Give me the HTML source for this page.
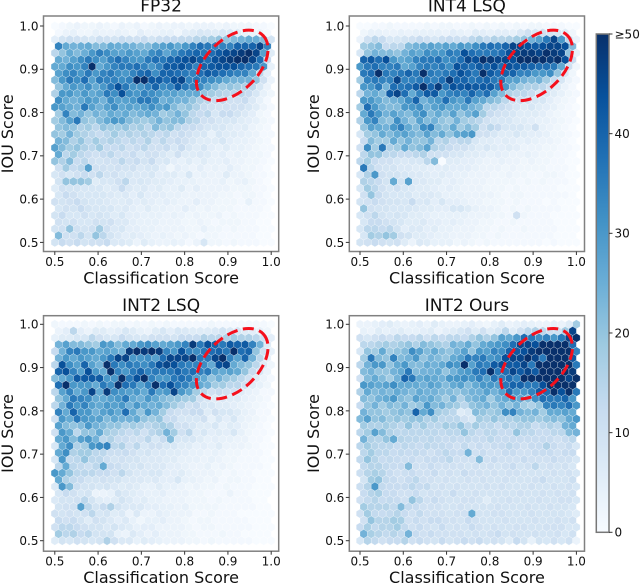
<!DOCTYPE html>
<html lang="en">
<head>
<meta charset="utf-8">
<title>IOU vs Classification Score hexbin charts</title>
<style>
html,body{margin:0;padding:0;background:#fff;width:640px;height:585px;overflow:hidden}
svg{display:block;filter:blur(0.35px)}
text{font-family:"DejaVu Sans","Liberation Sans",sans-serif;fill:#111}
</style>
</head>
<body>
<svg id="figure" width="640" height="585" viewBox="0 0 640 585" xmlns="http://www.w3.org/2000/svg">
<defs>
<linearGradient id="blues" x1="0" y1="1" x2="0" y2="0"></linearGradient>
</defs>
</svg>
<script>
const tickValues = [0.5, 0.6, 0.7, 0.8, 0.9, 1.0];
const tickLabels = ["0.5", "0.6", "0.7", "0.8", "0.9", "1.0"];
const colorbarValues = [0, 10, 20, 30, 40, 50];
const colorbarLabels = ["0", "10", "20", "30", "40", "≥50"];
const colormapColors = ["#f7fbff", "#deebf7", "#c6dbef", "#9ecae1", "#6baed6", "#4292c6", "#2171b5", "#08519c", "#08306b"];
const panelTitles = ["FP32", "INT4 LSQ", "INT2 LSQ", "INT2 Ours"];

const countsFP32 = [
[0,1,2,3,2,2,3,2,1,3,2,3,1,2,3,2,3,3,2,3,3,3,2,3,2,2,2,1,1,0],
[1,3,4,2,2,4,3,3,4,3,2,5,3,3,4,4,2,5,6,8,7,6,8,7,6,4,3,3,1],
[5,9,11,10,9,8,11,10,9,12,11,10,12,9,11,12,12,13,13,15,16,18,20,20,22,24,26,25,22,9],
[34,26,24,25,26,22,22,26,25,25,24,22,22,26,28,30,26,30,34,38,36,34,34,34,40,40,40,46,34],
[14,20,26,22,25,30,35,32,28,27,30,28,26,32,34,27,32,36,38,40,36,38,42,45,46,48,50,46,28,6],
[26,24,28,32,36,32,28,34,38,34,30,30,36,38,36,40,42,44,46,42,38,44,46,48,50,50,46,38,12],
[26,26,32,30,34,50,26,30,34,36,36,38,34,30,34,42,42,44,40,34,40,42,44,44,44,40,38,36,30,4],
[28,32,34,30,36,30,34,36,32,30,34,38,40,32,40,40,38,36,34,38,42,40,38,36,34,34,26,14,5],
[22,30,36,32,38,28,36,34,34,32,34,50,50,42,42,38,44,46,34,36,34,32,30,26,24,24,24,20,10,3],
[20,26,30,28,32,26,30,36,44,36,30,30,34,40,32,34,42,36,34,32,26,22,18,20,18,16,14,8,3],
[16,30,30,26,30,26,28,36,32,44,32,30,34,32,30,28,28,26,26,26,20,18,16,14,14,14,12,8,4,2],
[32,26,24,26,30,28,24,32,28,28,30,36,36,32,24,26,24,24,20,16,14,12,13,10,10,12,7,4,1],
[30,28,26,24,36,28,24,28,32,26,28,26,28,32,28,30,22,18,20,16,12,10,9,10,10,10,8,6,3,1],
[18,34,22,24,20,24,22,26,24,26,22,24,26,24,18,20,24,20,14,12,14,8,12,12,9,7,5,2,1],
[18,22,28,36,20,18,22,26,30,28,22,20,18,20,24,20,22,22,16,14,10,10,8,8,8,6,5,4,2,1],
[20,22,20,16,18,14,20,18,18,20,16,18,14,22,18,20,14,12,12,10,8,8,8,6,5,6,3,2,1],
[20,18,24,18,16,14,12,14,18,14,16,14,16,14,12,14,10,12,10,8,8,4,8,6,6,5,4,3,1,1],
[24,22,16,20,14,18,14,16,14,12,14,12,16,10,14,10,12,10,8,6,6,6,8,5,4,4,3,2,1],
[28,22,18,20,16,14,18,12,12,14,10,12,14,10,10,12,8,12,8,6,8,5,4,6,4,4,3,2,1,1],
[26,14,18,14,12,10,12,14,10,10,12,8,10,10,8,6,10,6,6,7,6,4,5,3,4,3,2,2,1],
[20,16,22,12,14,10,9,10,10,14,10,12,9,12,7,8,5,4,6,4,6,4,4,5,3,3,2,2,1,0],
[10,18,12,14,28,10,10,9,10,9,10,7,8,8,5,2,5,4,3,5,3,4,3,5,3,2,2,1,0],
[8,10,8,10,12,10,14,9,10,8,8,7,7,8,5,6,6,4,8,3,4,3,3,6,3,3,2,1,1,0],
[9,20,20,20,18,6,8,8,10,14,7,8,7,6,6,5,4,4,4,3,3,3,4,2,3,4,2,1,0],
[6,10,9,9,8,8,8,6,7,12,7,6,7,5,6,4,4,6,3,5,3,3,3,3,2,2,2,1,1,0],
[8,12,10,8,8,8,8,7,6,7,5,8,5,5,5,4,4,3,3,3,3,3,2,2,1,2,2,1,0],
[10,9,10,12,9,8,8,7,6,6,7,5,6,5,4,5,4,3,3,5,3,3,2,2,2,1,4,1,1,0],
[8,10,9,12,9,8,8,8,6,7,5,4,6,4,4,3,3,5,3,2,3,2,2,2,1,1,1,1,0],
[9,12,8,8,10,8,9,8,6,8,5,5,4,4,4,3,4,3,2,3,2,2,3,1,2,1,1,1,0,0],
[10,9,10,8,8,10,9,10,7,7,5,4,4,4,3,3,3,2,2,3,2,1,2,2,2,1,1,0,0],
[9,10,20,10,9,10,18,10,7,8,5,5,4,4,3,3,3,3,2,2,4,2,2,1,2,1,1,1,0,0],
[22,10,10,14,9,20,14,9,7,5,6,5,4,3,4,3,2,3,2,1,2,2,1,1,1,1,1,0,0],
[9,12,10,12,9,10,10,12,7,7,6,3,6,4,3,3,4,3,1,3,8,2,2,1,2,1,1,1,0,0]
];

const countsINT4 = [
[0,0,1,1,2,1,1,1,1,2,1,2,2,1,1,2,1,2,1,2,1,2,1,2,2,1,1,1,0,0],
[2,4,4,3,3,4,3,4,4,4,4,3,5,4,3,6,5,4,5,5,4,7,10,8,10,9,8,6,2],
[3,10,14,12,8,8,9,10,12,10,8,11,12,11,10,14,16,13,16,15,16,18,20,24,28,36,46,30,14,3],
[18,20,22,12,14,14,22,24,26,28,26,28,26,30,28,32,36,38,36,40,46,46,44,42,44,46,46,44,22],
[8,20,24,22,22,20,24,28,26,32,30,30,36,34,44,38,36,36,36,38,44,46,48,48,46,50,48,46,20,4],
[40,42,38,44,30,26,28,34,36,36,38,32,34,38,46,44,50,48,46,46,44,50,50,50,50,48,50,44,12],
[30,36,38,34,34,36,26,28,34,36,34,36,32,44,40,38,42,40,44,38,44,42,42,40,38,38,36,26,10,2],
[36,38,50,36,34,36,40,36,50,36,34,36,38,44,40,36,50,42,38,40,40,34,34,30,30,32,20,8,2],
[18,34,36,34,34,46,34,34,36,36,34,38,48,40,40,36,38,40,36,36,28,28,24,22,24,18,12,8,3,1],
[30,30,36,24,38,36,38,42,50,40,48,36,44,42,44,42,42,42,36,30,22,18,16,16,14,10,6,3,1],
[14,24,26,22,42,46,38,26,34,42,42,30,34,36,34,40,34,38,28,22,16,14,14,12,8,8,6,4,2,1],
[30,30,26,22,24,26,32,40,24,28,30,38,30,28,36,28,26,22,20,14,10,10,9,8,8,5,3,2,1],
[18,38,30,24,22,22,30,30,32,24,28,30,26,26,28,24,22,14,14,12,10,8,6,8,6,5,4,2,1,0],
[26,36,30,24,28,24,22,28,32,22,26,22,28,20,24,28,18,12,10,9,8,6,6,6,5,3,2,1,1],
[16,30,34,22,20,32,24,20,28,22,24,20,18,24,18,16,14,10,8,8,8,6,6,5,4,4,3,2,1,0],
[20,28,26,24,30,34,26,22,32,34,22,20,26,18,22,18,10,14,12,8,8,8,6,10,4,3,2,1,0],
[8,18,20,26,22,26,28,24,22,28,22,26,20,26,28,30,10,10,8,6,6,8,6,5,5,4,2,2,1,0],
[12,22,18,18,26,20,24,20,20,24,14,16,12,14,14,8,6,6,5,6,5,4,5,4,3,3,2,1,0],
[10,32,18,36,16,18,26,20,22,28,16,14,12,10,10,8,6,8,6,5,6,5,3,3,3,2,2,1,1,0],
[14,20,20,14,14,12,12,14,16,10,10,10,8,8,6,6,5,4,5,4,3,3,4,3,2,2,1,1,0],
[14,18,12,10,10,8,7,8,8,14,22,0,6,6,5,5,4,3,3,4,3,3,2,3,2,2,1,1,0,0],
[36,14,10,9,9,7,7,6,6,5,5,6,5,5,5,4,3,3,3,2,3,2,2,2,2,1,1,1,0],
[8,16,30,10,9,9,8,7,7,6,5,6,5,4,4,3,3,3,2,2,3,2,2,1,1,2,2,1,0,0],
[16,14,12,9,26,9,28,7,7,6,6,4,5,4,3,3,3,2,2,2,2,1,2,1,2,1,1,1,0],
[8,18,14,10,8,10,8,7,6,6,5,4,5,4,3,3,3,2,2,2,1,2,1,1,1,1,1,0,0,0],
[10,20,12,9,8,8,8,6,7,7,6,4,4,4,3,3,3,3,2,1,2,2,1,1,1,1,1,1,0],
[9,10,12,10,9,9,8,12,7,8,5,8,5,5,4,3,3,2,2,2,1,2,1,1,1,0,1,0,0,0],
[20,10,9,9,8,8,8,7,6,6,5,5,8,8,6,4,3,3,2,1,2,1,2,1,1,1,1,0,0],
[8,10,14,9,8,9,8,6,6,5,4,4,4,4,4,3,3,3,2,2,1,10,2,1,1,1,0,0,0,0],
[8,12,12,10,9,8,6,6,7,5,5,4,5,4,3,3,2,2,1,1,2,1,1,1,1,1,0,0,0],
[8,14,14,12,14,9,5,7,7,5,6,4,4,3,3,3,2,2,1,2,1,1,2,1,1,1,1,0,0,0],
[8,18,16,20,18,10,9,6,6,5,4,4,3,3,3,2,2,1,2,1,1,1,1,1,1,1,0,0,0],
[9,10,12,10,9,10,6,3,7,6,4,4,4,2,3,2,1,2,1,1,1,1,1,1,1,0,1,0,0,0]
];

const countsINT2LSQ = [
[2,1,1,1,2,1,2,1,2,2,1,2,1,2,1,2,1,1,1,1,1,2,1,1,1,1,1,1,1,0],
[3,5,14,5,3,6,6,4,5,8,6,4,3,6,8,5,8,7,6,6,6,7,9,7,8,6,5,4,2],
[4,6,6,8,8,14,10,8,8,12,9,8,8,10,10,10,9,12,12,12,16,14,14,16,18,16,16,14,10,5],
[24,28,22,22,20,18,30,28,22,26,26,30,32,28,26,28,30,34,48,36,44,40,36,42,40,42,34,24,6],
[12,24,34,36,30,30,26,28,26,24,48,50,48,50,48,34,30,44,34,32,36,38,40,36,50,38,40,20,10,4],
[24,30,26,30,28,26,30,36,46,46,30,30,32,28,38,46,46,46,50,36,36,46,50,34,28,40,24,14,4],
[14,44,32,28,40,28,24,50,36,32,36,34,32,36,44,46,44,36,34,34,32,26,44,46,26,22,20,14,6,2],
[40,44,34,28,44,30,26,50,34,30,36,40,34,36,36,36,40,36,38,34,36,28,26,28,26,20,12,8,3],
[22,26,30,42,42,42,42,30,30,50,36,44,50,34,30,30,36,38,36,28,26,20,24,20,18,14,10,6,3,1],
[38,50,30,30,30,26,36,32,50,38,36,28,34,50,38,44,36,34,30,26,24,18,18,14,14,10,6,4,2],
[14,28,34,26,30,46,26,48,32,30,28,30,26,36,28,30,46,30,26,18,14,10,12,10,10,6,4,3,1,1],
[20,26,36,34,32,26,26,28,30,36,26,24,30,26,22,20,20,18,18,10,8,6,7,6,6,4,3,2,1],
[14,24,36,30,34,28,26,30,28,30,24,30,26,24,26,22,18,14,10,12,8,8,6,6,5,4,3,2,1,0],
[34,26,40,30,30,24,28,30,26,38,26,20,30,24,18,12,10,10,12,12,6,10,8,8,6,4,3,1,1],
[10,30,26,36,30,28,28,22,26,24,24,26,20,18,20,12,12,8,8,8,10,4,8,5,8,4,3,2,1,0],
[28,22,20,22,30,24,22,20,20,16,18,16,14,16,18,16,10,10,8,6,6,8,4,6,5,3,2,1,0],
[10,30,26,14,20,20,26,18,16,14,12,14,10,14,16,24,18,10,14,6,8,5,6,5,8,4,2,1,1,0],
[26,30,22,28,30,24,14,16,12,12,10,10,14,8,12,22,8,8,8,6,4,5,4,4,3,3,1,1,0],
[8,26,32,16,18,30,32,34,14,16,10,14,8,10,10,8,8,6,6,4,5,4,6,3,3,3,2,1,0,0],
[26,32,16,18,18,14,14,11,11,12,10,8,9,7,7,6,6,5,4,4,3,4,3,2,2,1,1,1,0],
[8,30,13,14,20,14,14,11,9,10,9,9,7,7,7,6,6,4,4,4,3,4,3,2,2,1,1,1,0,0],
[14,26,14,13,11,14,26,12,11,9,8,9,7,7,7,5,5,4,3,3,4,2,3,2,1,1,1,1,0],
[30,26,20,14,14,14,12,12,10,14,9,7,7,8,8,5,5,6,4,3,3,3,2,1,2,1,1,0,0,0],
[26,16,13,12,9,9,10,9,9,7,7,7,6,7,5,5,8,4,4,3,2,3,1,2,2,1,1,0,0],
[7,30,22,11,9,9,8,9,7,6,7,6,4,4,6,4,4,3,2,3,2,2,1,2,1,1,1,0,0,0],
[8,12,10,8,9,3,3,4,9,7,6,5,4,4,5,3,3,3,2,2,1,1,1,3,1,1,0,0,0],
[7,9,9,10,14,9,6,5,6,9,7,5,6,4,4,3,3,3,2,2,2,1,2,1,1,1,1,0,0],
[9,10,10,28,14,9,12,16,9,7,7,7,5,5,4,4,3,4,2,2,2,2,1,1,1,1,1,0,0],
[10,9,10,9,10,14,8,9,6,7,3,7,3,3,5,4,3,3,3,1,1,2,1,1,1,0,0,0,0,0],
[12,10,12,9,6,10,9,7,5,7,4,2,4,4,5,3,3,2,1,2,2,1,1,1,1,1,0,0,0],
[10,14,14,12,10,9,9,7,9,7,6,4,5,5,3,3,3,3,2,1,2,2,1,1,1,1,1,0,0,0],
[18,14,16,12,14,9,9,9,4,3,7,5,3,5,3,3,3,2,2,1,1,1,2,1,1,0,0,0,0],
[6,9,8,10,9,8,9,16,10,7,7,4,6,5,4,3,3,3,2,2,1,2,1,1,1,1,1,0,0,0]
];

const countsINT2Ours = [
[3,3,4,5,6,4,3,4,5,3,6,4,3,3,4,5,3,2,4,6,3,4,5,4,3,3,4,3,6,18],
[4,3,6,4,5,6,4,4,5,6,3,5,6,8,10,6,10,6,8,14,6,10,14,16,14,10,10,18,46],
[10,8,10,12,10,14,12,12,14,10,14,12,14,14,12,16,20,16,20,28,26,30,38,36,32,34,30,36,46,50],
[14,14,16,18,16,18,20,16,22,20,18,16,24,22,26,20,26,28,30,32,38,46,46,44,50,50,50,50,38],
[8,20,18,26,18,20,22,32,28,22,26,22,20,24,28,20,30,28,34,32,40,42,44,48,50,50,50,50,50,34],
[18,36,22,20,34,22,24,30,20,24,22,20,26,28,36,34,36,30,32,44,46,46,50,46,36,50,50,50,42],
[14,24,30,30,20,26,30,22,22,26,24,26,32,30,50,28,36,34,42,44,42,42,46,36,50,50,50,50,50,36],
[22,24,20,20,24,26,36,22,24,24,26,20,24,28,30,36,38,50,36,38,46,42,46,42,50,50,50,50,48],
[10,22,26,22,18,24,40,36,26,28,26,24,30,30,32,30,34,28,36,34,38,34,50,50,50,50,50,50,46,50],
[30,28,26,28,32,26,26,26,24,28,26,22,26,28,22,26,30,30,28,36,40,40,36,36,44,50,50,50,50],
[16,26,22,24,22,26,24,22,26,24,24,22,22,20,22,24,24,28,24,28,38,30,30,34,42,38,50,44,50,36],
[22,20,24,26,30,22,20,28,24,26,22,18,24,16,22,24,26,18,24,26,28,26,22,32,38,36,36,40,30],
[12,20,24,18,22,20,24,18,20,30,22,24,20,18,14,20,22,24,20,24,20,24,18,16,20,34,36,34,38,30],
[24,20,20,18,20,22,20,40,26,32,18,16,14,6,8,22,20,18,20,32,34,24,22,24,18,26,26,28,26],
[22,28,20,22,18,20,18,20,20,16,18,14,14,14,10,8,18,16,20,16,16,18,20,20,18,20,22,20,26,30],
[18,16,16,18,16,14,20,14,18,14,14,18,16,20,14,18,14,14,12,16,14,16,16,12,14,16,14,24,26],
[14,18,28,22,16,14,14,14,14,14,14,13,14,14,20,14,12,14,14,12,12,20,14,14,12,12,14,14,22,24],
[24,16,15,20,26,15,14,14,13,14,13,12,13,12,13,12,12,14,12,12,12,12,12,12,12,12,10,12,14],
[14,18,15,14,14,12,14,13,12,14,13,13,12,10,13,10,12,10,12,12,14,12,10,12,12,16,12,10,12,8],
[14,18,14,14,12,13,12,13,12,10,12,14,12,12,24,10,12,10,10,12,12,10,10,12,12,12,10,12,12],
[13,20,15,12,13,12,11,12,10,12,12,12,14,10,10,10,22,10,12,10,10,10,12,10,10,10,12,10,10,8],
[13,15,15,13,12,12,22,10,10,12,10,10,10,10,9,10,9,10,9,10,12,9,10,14,9,10,9,10,8],
[11,15,17,15,12,10,11,12,10,10,12,9,10,9,12,10,10,9,10,9,10,10,9,9,9,9,10,9,10,8],
[9,18,20,13,12,10,12,14,10,10,9,10,9,9,10,9,10,9,9,10,9,9,9,10,12,9,9,9,11],
[11,15,30,13,12,12,12,14,12,13,9,10,9,10,9,9,9,10,9,10,9,9,9,10,9,9,10,9,10,8],
[12,15,17,12,12,10,10,12,9,10,10,9,12,9,9,10,9,9,9,9,9,10,9,9,10,9,10,9,10],
[10,13,15,12,13,12,10,20,14,10,12,10,9,9,10,10,9,6,9,9,10,9,9,9,10,9,9,10,10,8],
[18,15,15,15,13,22,13,12,10,10,10,9,9,10,9,9,9,9,10,9,9,9,10,9,9,10,9,9,8],
[10,18,13,12,13,15,12,10,13,10,10,10,9,10,10,26,9,9,10,10,9,9,9,10,9,9,9,9,8,6],
[10,20,15,15,18,17,10,12,10,12,12,10,10,9,12,10,9,9,9,10,9,9,9,10,9,9,10,9,10],
[12,17,13,15,15,18,13,10,12,10,9,12,9,10,9,12,10,9,10,9,9,10,10,9,9,10,10,10,8,8],
[24,17,15,13,15,13,24,12,10,12,10,10,10,10,9,10,9,10,12,9,10,9,9,10,9,9,10,8,10],
[8,15,13,10,12,12,15,10,12,10,9,12,9,10,12,10,12,9,10,9,6,12,9,4,9,8,10,8,10,3]
];

const NS = "http://www.w3.org/2000/svg";
const svg = document.getElementById("figure");
const allCounts = [countsFP32, countsINT4, countsINT2LSQ, countsINT2Ours];
const layoutLeft = [43.5, 349.3];
const layoutTop = [16, 315.7];
const FRAME_W = 235.2, FRAME_H = 235.5;
const GRID_NX = 29, GRID_NY = 16;

function make(tag, parent, attrs) {
  const el = document.createElementNS(NS, tag);
  for (const k in attrs) el.setAttribute(k, attrs[k]);
  parent.appendChild(el);
  return el;
}

function blues(v) {
  const t = Math.max(0, Math.min(1, v / 50)) * (colormapColors.length - 1);
  const a = Math.min(Math.floor(t), colormapColors.length - 2);
  const f = t - a;
  const p = c => [1, 3, 5].map(n => parseInt(c.substr(n, 2), 16));
  const c0 = p(colormapColors[a]), c1 = p(colormapColors[a + 1]);
  return "rgb(" + c0.map((c, n) => Math.round(c + (c1[n] - c) * f)).join(",") + ")";
}

function drawPanel(index) {
  const col = index % 2, row = Math.floor(index / 2);
  const left = layoutLeft[col], top = layoutTop[row];
  const xZero = left + (col ? 10.7 : 11.3);
  const yOne = top + (row ? 8.6 : 10);
  const scale = 216.4 / 0.5;
  const xAxis = v => xZero + (v - 0.5) * scale;
  const yAxis = v => yOne + (1 - v) * scale;

  const g = make("g", svg, {});
  
  

  const bg = make("rect", g, {x: left, y: top, width: FRAME_W, height: FRAME_H, fill: "#fff"});
  
  

  const dx = 0.5 / GRID_NX, dy = 0.5 / GRID_NY;
  const hw = xAxis(0.5 + dx) - xAxis(0.5);
  const hs = (yAxis(0.5) - yAxis(0.5 + dy)) / 3;
  allCounts[index].forEach((values, k) => {
    const rowY = 1 - k * dy / 2;
    const shift = k % 2 ? dx / 2 : 0;
    values.forEach((count, i) => {
      const cx = xAxis(0.5 + i * dx + shift), cy = yAxis(rowY);
      const pts = [[.5, -.5], [.5, .5], [0, 1], [-.5, .5], [-.5, -.5], [0, -1]]
        .map(p => (cx + p[0] * hw).toFixed(2) + "," + (cy + p[1] * hs).toFixed(2)).join(" ");
      const hex = make("polygon", g, {points: pts, fill: blues(count), stroke: "#ffffff", "stroke-width": "0.35", "stroke-opacity": "0.75"});
      
      
    });
  });

  const frame = make("rect", g, {x: left, y: top, width: FRAME_W, height: FRAME_H, fill: "none", stroke: "#808080", "stroke-width": "1.5"});
  
  

  tickValues.forEach((v, i) => {
    const x = xAxis(v), y = yAxis(v);
    const xt = make("line", g, {x1: x, x2: x, y1: top + FRAME_H, y2: top + FRAME_H + 3.5, stroke: "#333", "stroke-width": "1"});
    
    
    const yt = make("line", g, {x1: left, x2: left - 3.5, y1: y, y2: y, stroke: "#333", "stroke-width": "1"});
    
    
    const xl = make("text", g, {x: x, y: top + FRAME_H + 14.5, "text-anchor": "middle", "font-size": "12"});
    
    
    xl.textContent = tickLabels[i];
    const yl = make("text", g, {x: left - 5, y: y + 4.4, "text-anchor": "end", "font-size": "12"});
    
    
    yl.textContent = tickLabels[i];
  });

  const title = make("text", g, {x: left + FRAME_W / 2, y: top - 4.5, "text-anchor": "middle", "font-size": "17"});
  
  
  title.textContent = panelTitles[index];

  const xLabel = make("text", g, {x: left + FRAME_W / 2, y: top + FRAME_H + 32, "text-anchor": "middle", "font-size": "16"});
  
  
  xLabel.textContent = "Classification Score";

  const yx = left - 30.5, yy = top + FRAME_H / 2;
  const yLabel = make("text", g, {x: yx, y: yy, "text-anchor": "middle", "font-size": "16", transform: "rotate(-90 " + yx + " " + yy + ")"});
  
  
  yLabel.textContent = "IOU Score";

  const ex = xAxis(col ? 0.908 : 0.91), ey = yAxis(0.909);
  const ring = make("ellipse", g, {cx: 0, cy: 0, rx: 43, ry: 26, fill: "none", stroke: "#f5101c", "stroke-width": "3", "stroke-dasharray": "11 5.5", transform: "translate(" + ex.toFixed(1) + " " + ey.toFixed(1) + ") rotate(-44)"});
  
  
}

function drawColorbar() {
  const grad = document.getElementById("blues");
  colormapColors.forEach((c, i) => {
    make("stop", grad, {offset: i / (colormapColors.length - 1), "stop-color": c});
  });
  const barLeft = 596.3, barRight = 609, barTop = 34, barBottom = 532.3;
  const cAxis = v => barBottom - (v / 50) * (barBottom - barTop);
  const g = make("g", svg, {});
  
  
  const bar = make("rect", g, {x: barLeft, y: barTop, width: barRight - barLeft, height: barBottom - barTop, fill: "url(#blues)", stroke: "#777", "stroke-width": "1.5"});
  
  
  colorbarValues.forEach((v, i) => {
    const y = cAxis(v);
    const t = make("line", g, {x1: barRight, x2: barRight + 3.5, y1: y, y2: y, stroke: "#333", "stroke-width": "1"});
    
    
    const l = make("text", g, {x: barRight + 5.5, y: y + 4.4, "font-size": "12"});
    
    
    l.textContent = colorbarLabels[i];
  });
}

panelTitles.forEach((_, i) => drawPanel(i));
drawColorbar();
</script>
</body>
</html>
